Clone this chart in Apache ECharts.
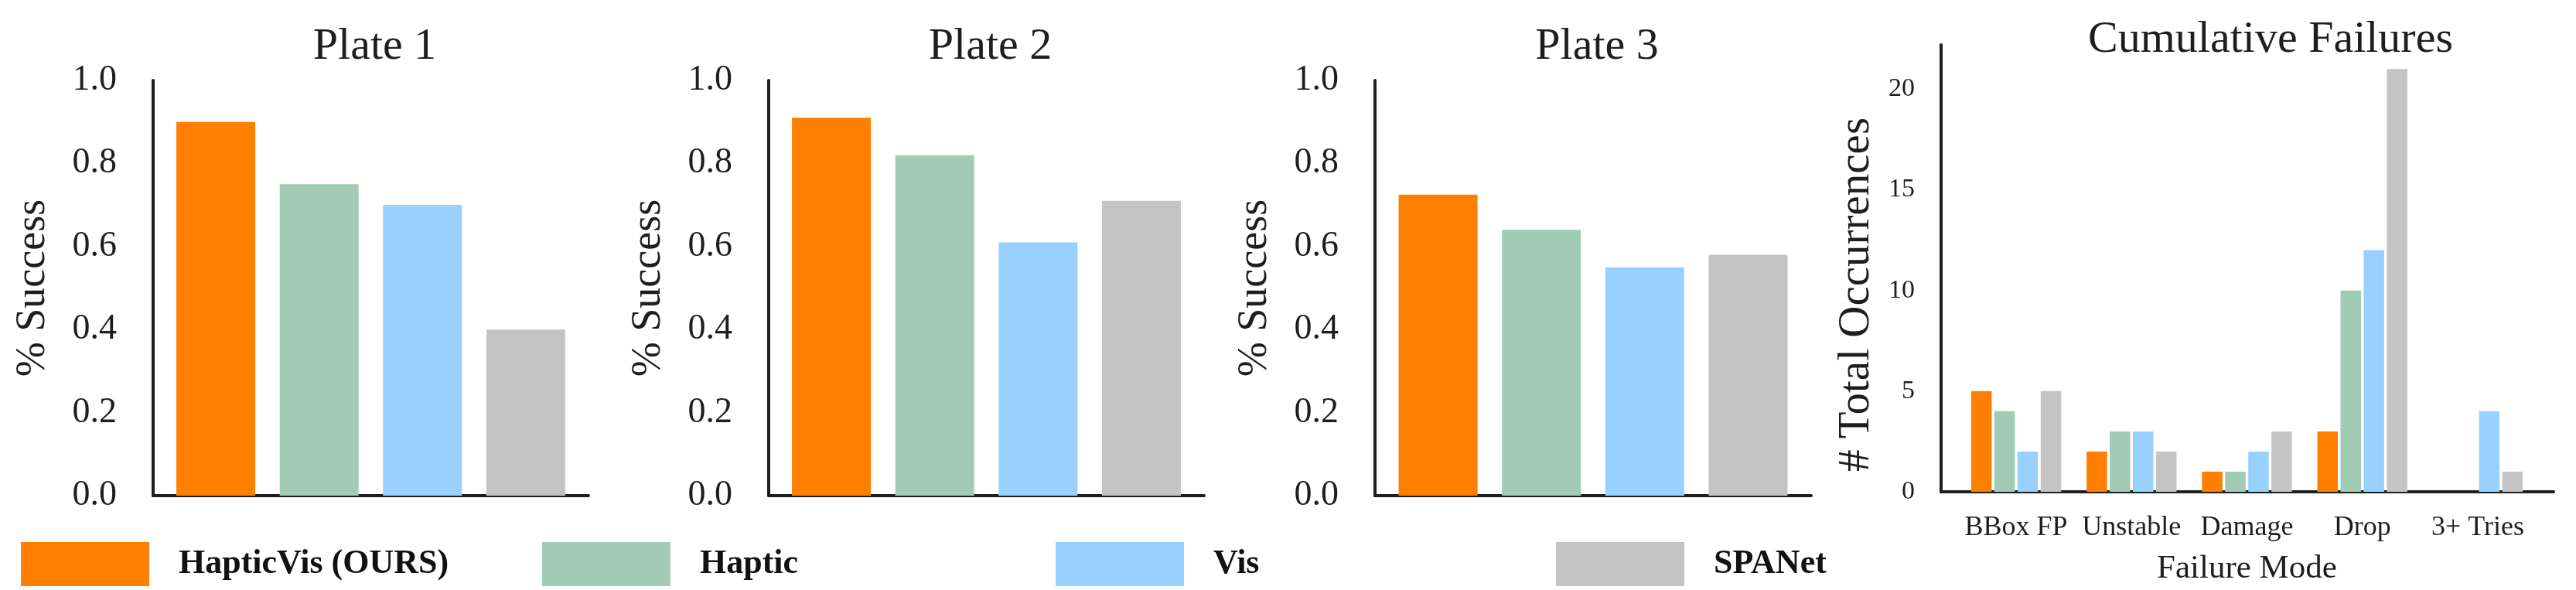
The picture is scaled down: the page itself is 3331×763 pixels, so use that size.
<!DOCTYPE html>
<html>
<head>
<meta charset="utf-8">
<title>Plate success and cumulative failures</title>
<script src="https://cdn.jsdelivr.net/npm/echarts@6/dist/echarts.min.js"></script>
<style>
  html, body { margin: 0; padding: 0; background: #fff; }
  #main { width: 3331px; height: 763px; }
</style>
</head>
<body>
<div id="main"></div>
<script>
// data
var methods = ['HapticVis (OURS)', 'Haptic', 'Vis', 'SPANet'];
var plateTitles = ['Plate 1', 'Plate 2', 'Plate 3'];
var plate1 = [0.90, 0.75, 0.70, 0.40];
var plate2 = [0.91, 0.82, 0.61, 0.71];
var plate3 = [0.725, 0.64, 0.55, 0.58];
var failureModes = ['BBox FP', 'Unstable', 'Damage', 'Drop', '3+ Tries'];
var failHapticVis = [5, 2, 1, 3, 0];
var failHaptic = [4, 3, 1, 10, 0];
var failVis = [2, 3, 2, 12, 4];
var failSPANet = [5, 2, 3, 21, 1];

(function () {
  var chart = echarts.init(document.getElementById('main'));
  var colors = ['#ff7f00', '#a1cbb4', '#99d1fe', '#c4c4c4'];
  var font = 'Liberation Serif';
  var ink = '#1e1e1e';
  var plates = [plate1, plate2, plate3];
  var fails = [failHapticVis, failHaptic, failVis, failSPANet];

  var plateLeft = [198, 994, 1778];
  var plateWidth = [563, 563, 564];

  var grid = [], xAxis = [], yAxis = [], series = [], title = [];

  // three success plots
  plates.forEach(function (vals, p) {
    grid.push({ left: plateLeft[p], width: plateWidth[p], top: 104, height: 537 });
    title.push({
      text: plateTitles[p],
      left: plateLeft[p] + plateWidth[p] / 2,
      top: 56,
      textAlign: 'center',
      textVerticalAlign: 'middle',
      textStyle: { fontFamily: font, fontSize: 58, fontWeight: 'normal', color: ink }
    });
    xAxis.push({
      type: 'category',
      gridIndex: p,
      data: [''],
      axisTick: { show: false },
      axisLabel: { show: false },
      axisLine: { lineStyle: { color: ink, width: 4 } }
    });
    yAxis.push({
      type: 'value',
      gridIndex: p,
      min: 0,
      max: 1,
      interval: 0.2,
      name: '% Success',
      nameLocation: 'middle',
      nameGap: 128,
      nameTextStyle: { fontFamily: font, fontSize: 54, color: ink },
      axisLine: { show: true, lineStyle: { color: ink, width: 4 } },
      axisTick: { show: false },
      splitLine: { show: false },
      axisLabel: {
        margin: 47,
        fontFamily: font,
        fontSize: 46,
        color: ink,
        formatter: function (v) { return v.toFixed(1); }
      }
    });
    methods.forEach(function (m, i) {
      series.push({
        type: 'bar',
        name: m,
        xAxisIndex: p,
        yAxisIndex: p,
        data: [vals[i]],
        barWidth: 102,
        barGap: '31%',
        itemStyle: { color: colors[i] },
        emphasis: { disabled: true }
      });
    });
  });

  // cumulative failures: bars grid (index 3)
  grid.push({ left: 2532.5, width: 746, top: 58, height: 578 });
  xAxis.push({
    type: 'category',
    gridIndex: 3,
    data: failureModes,
    name: 'Failure Mode',
    nameLocation: 'middle',
    nameGap: 78,
    nameTextStyle: { fontFamily: font, fontSize: 43, color: ink },
    axisLine: { show: false },
    axisTick: { show: false },
    axisLabel: { interval: 0, margin: 29, fontFamily: font, fontSize: 36, color: ink }
  });
  yAxis.push({ type: 'value', gridIndex: 3, min: 0, max: 22.2, show: false });

  // axis frame for the failures plot (index 4)
  grid.push({ left: 2510, width: 792, top: 58, height: 578 });
  xAxis.push({
    type: 'value',
    gridIndex: 4,
    min: 0,
    max: 1,
    axisLine: { show: true, lineStyle: { color: ink, width: 4 } },
    axisTick: { show: false },
    axisLabel: { show: false },
    splitLine: { show: false }
  });
  yAxis.push({
    type: 'value',
    gridIndex: 4,
    min: 0,
    max: 22.2,
    interval: 5,
    name: '# Total Occurrences',
    nameLocation: 'middle',
    nameGap: 80,
    nameTextStyle: { fontFamily: font, fontSize: 57, color: ink, padding: [0, 68, 0, 0] },
    axisLine: { show: true, lineStyle: { color: ink, width: 4 } },
    axisTick: { show: false },
    splitLine: { show: false },
    axisLabel: { margin: 34, fontFamily: font, fontSize: 34, color: ink, showMaxLabel: false }
  });

  title.push({
    text: 'Cumulative Failures',
    left: 2931,
    top: 47,
    textAlign: 'center',
    textVerticalAlign: 'middle',
    textStyle: { fontFamily: font, fontSize: 58, fontWeight: 'normal', color: ink }
  });

  methods.forEach(function (m, i) {
    series.push({
      type: 'bar',
      name: m,
      xAxisIndex: 3,
      yAxisIndex: 3,
      data: fails[i],
      barWidth: 26.5,
      barGap: '13%',
      itemStyle: { color: colors[i] },
      emphasis: { disabled: true }
    });
  });

  // one legend per method, spread along the bottom
  var legendLeft = [27, 701, 1365, 2012];
  var legend = methods.map(function (m, i) {
    return {
      data: [m],
      left: legendLeft[i],
      top: 701,
      padding: 0,
      icon: 'rect',
      itemWidth: 166,
      itemHeight: 57,
      selectedMode: false,
      textStyle: { fontFamily: font, fontSize: 44, fontWeight: 'bold', color: '#111', padding: [0, 0, 0, 33] }
    };
  });

  var option = {
    animation: false,
    title: title,
    legend: legend,
    grid: grid,
    xAxis: xAxis,
    yAxis: yAxis,
    series: series
  };

  chart.setOption(option);
  window.addEventListener('resize', function () {
    chart.resize();
  });
})();
</script>
</body>
</html>
